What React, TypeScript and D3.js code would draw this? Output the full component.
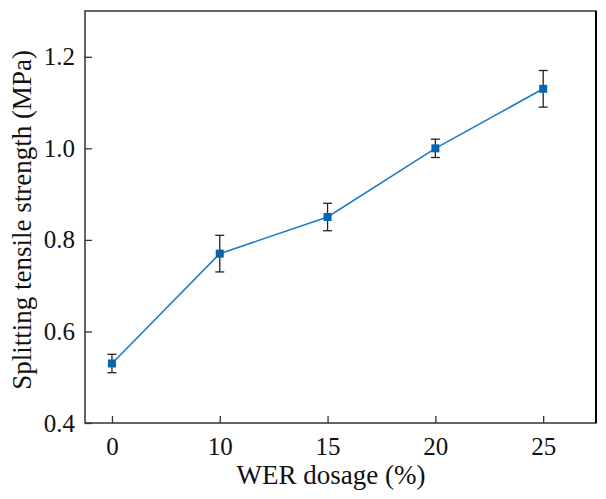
import { useRef, useEffect } from "react";
import * as d3 from "d3";

const dosages = ["0", "10", "15", "20", "25"];
const strength = [0.53, 0.77, 0.85, 1.0, 1.13];
const errors = [0.02, 0.04, 0.03, 0.02, 0.04];
const yTicks = [0.4, 0.6, 0.8, 1.0, 1.2];

const W = 606;
const H = 499;

export default function App() {
  const svgRef = useRef<SVGSVGElement>(null);

  useEffect(() => {
    if (!svgRef.current) return;
    const svg = d3.select(svgRef.current);
    svg.selectAll("*").remove();

    const margin = { top: 11, right: 10, bottom: 76, left: 85 };
    const width = W - margin.left - margin.right;
    const height = H - margin.top - margin.bottom;
    const font = "Liberation Serif, Times New Roman, serif";

    const g = svg
      .append("g")
      .attr("transform", `translate(${margin.left},${margin.top})`);

    // categories are evenly spaced, with a wider gap on the right
    const x = d3.scaleLinear().domain([-0.25, 4.49]).range([0, width]);
    const y = d3.scaleLinear().domain([0.4, 1.3]).range([height, 0]);

    const xAxis = g
      .append("g")
      .attr("transform", `translate(0,${height})`)
      .call(
        d3
          .axisBottom(x)
          .tickValues(d3.range(dosages.length))
          .tickFormat((d) => dosages[d as number])
          .tickSizeInner(-7)
          .tickSizeOuter(0)
          .tickPadding(14)
      );

    const yAxis = g.append("g").call(
      d3
        .axisLeft(y)
        .tickValues(yTicks)
        .tickFormat(d3.format(".1f"))
        .tickSizeInner(-7)
        .tickSizeOuter(0)
        .tickPadding(10)
    );

    [xAxis, yAxis].forEach((a) => {
      a.attr("font-family", font).attr("font-size", 25);
      a.select(".domain").remove();
      a.selectAll(".tick line").attr("stroke", "#333").attr("stroke-width", 1.3);
      a.selectAll("text")
        .style("font-family", font)
        .style("font-size", "25px")
        .attr("fill", "#111");
    });

    // frame
    g.append("rect")
      .attr("x", 0)
      .attr("y", 0)
      .attr("width", width)
      .attr("height", height)
      .attr("fill", "none")
      .attr("stroke", "#333")
      .attr("stroke-width", 1.5);
    g.append("line")
      .attr("x1", width)
      .attr("x2", width)
      .attr("y1", 0)
      .attr("y2", height)
      .attr("stroke", "#000")
      .attr("stroke-width", 2);

    const line = d3
      .line<number>()
      .x((_, i) => x(i))
      .y((d) => y(d));

    g.append("path")
      .datum(strength)
      .attr("d", line)
      .attr("fill", "none")
      .attr("stroke", "#1f7bc4")
      .attr("stroke-width", 1.6);

    // error bars
    const cap = 4.5;
    strength.forEach((v, i) => {
      const cx = x(i);
      const y1 = y(v + errors[i]);
      const y0 = y(v - errors[i]);
      const eb = g.append("g").attr("stroke", "#222").attr("stroke-width", 1.3);
      eb.append("line").attr("x1", cx).attr("x2", cx).attr("y1", y1).attr("y2", y0);
      eb.append("line").attr("x1", cx - cap).attr("x2", cx + cap).attr("y1", y1).attr("y2", y1);
      eb.append("line").attr("x1", cx - cap).attr("x2", cx + cap).attr("y1", y0).attr("y2", y0);
    });

    const ms = 8;
    g.selectAll("rect.marker")
      .data(strength)
      .enter()
      .append("rect")
      .attr("class", "marker")
      .attr("x", (_, i) => x(i) - ms / 2)
      .attr("y", (d) => y(d) - ms / 2)
      .attr("width", ms)
      .attr("height", ms)
      .attr("fill", "#0565ae");

    svg
      .append("text")
      .attr("x", 331)
      .attr("y", 484)
      .attr("text-anchor", "middle")
      .style("font-family", font)
      .style("font-size", "27px")
      .attr("fill", "#111")
      .text("WER dosage (%)");

    svg
      .append("text")
      .attr("transform", `translate(31,220) rotate(-90)`)
      .attr("text-anchor", "middle")
      .style("font-family", font)
      .style("font-size", "27px")
      .attr("fill", "#111")
      .text("Splitting tensile strength (MPa)");
  }, []);

  return (
    <svg
      ref={svgRef}
      width={W}
      height={H}
      style={{ position: "absolute", left: 0, top: 0, background: "#fff" }}
    />
  );
}
